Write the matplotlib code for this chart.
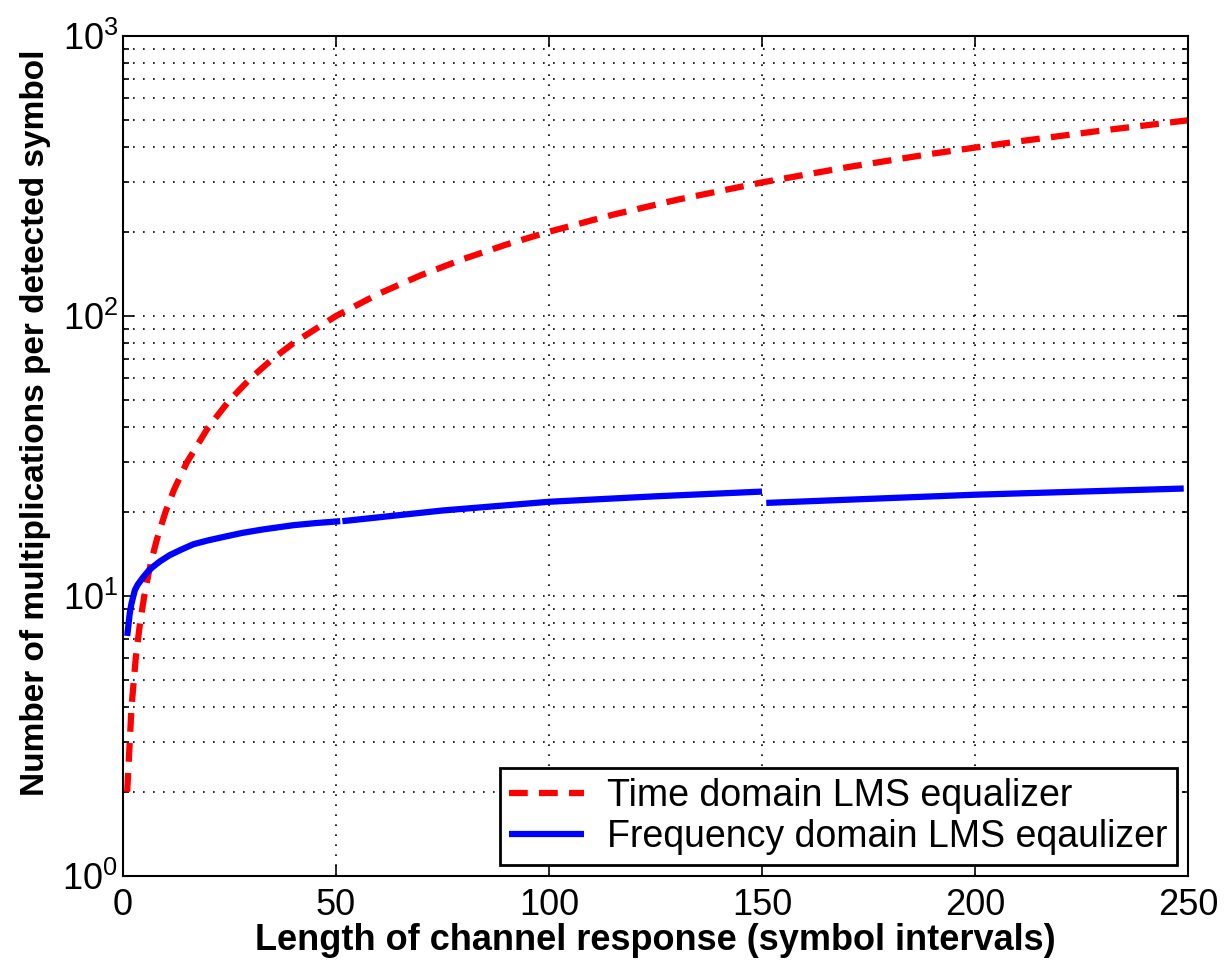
import numpy as np
import matplotlib
matplotlib.use('Agg')
import matplotlib.pyplot as plt
from matplotlib.ticker import LogLocator, FixedLocator, FixedFormatter, NullFormatter

plt.rcParams['font.family'] = ['Liberation Sans', 'DejaVu Sans']
plt.rcParams['mathtext.fontset'] = 'custom'
plt.rcParams['mathtext.rm'] = 'Liberation Sans'

# Time domain LMS equalizer
time_n = [1, 2, 3, 4, 5, 6, 7, 8, 10, 12, 15, 20, 25, 30, 35, 40, 50, 60, 70, 80,
          90, 100, 115, 130, 150, 170, 190, 210, 230, 250]
time_mult = [2, 4, 6, 8, 10, 12, 14, 16, 20, 24, 30, 40, 50, 60, 70, 80, 100, 120,
             140, 160, 180, 200, 230, 260, 300, 340, 380, 420, 460, 500]

# Frequency domain LMS equalizer, drawn as three separate pieces
freq_n1 = [1, 1.6, 2, 2.8, 3.5, 4.8, 6, 7, 8.7, 11, 13.5, 16.5, 20, 24, 28, 33, 40, 45, 51]
freq_mult1 = [7.2, 8.7, 9.4, 10.5, 11.0, 11.7, 12.3, 12.7, 13.3, 14.0, 14.6, 15.3,
              15.8, 16.3, 16.8, 17.3, 17.9, 18.2, 18.5]
freq_n2 = [51.5, 75, 100, 125, 150]
freq_mult2 = [18.5, 20.2, 21.7, 22.7, 23.6]
freq_n3 = [151, 200, 249]
freq_mult3 = [21.5, 23.0, 24.2]

y_ticks = [1, 10, 100, 1000]
y_tick_labels = [r'$\mathregular{10^{0}}$', r'$\mathregular{10^{1}}$',
                 r'$\mathregular{10^{2}}$', r'$\mathregular{10^{3}}$']
x_ticks = [0, 50, 100, 150, 200, 250]

fig = plt.figure(figsize=(12.26, 9.66), dpi=100)
ax = fig.add_axes([0.1003, 0.0932, 0.8687, 0.8695])

ax.plot(time_n, time_mult, color='red', lw=4.5, linestyle=(0, (3.0, 1.8)),
        label='Time domain LMS equalizer')
ax.plot(freq_n1, freq_mult1, color='blue', lw=4.5, solid_capstyle='butt',
        label='Frequency domain LMS eqaulizer')
ax.plot(freq_n2, freq_mult2, color='blue', lw=4.5, solid_capstyle='butt')
ax.plot(freq_n3, freq_mult3, color='blue', lw=4.5, solid_capstyle='butt')

ax.set_yscale('log')
ax.set_xlim(0, 250)
ax.set_ylim(1, 1000)
ax.xaxis.set_major_locator(FixedLocator(x_ticks))
ax.yaxis.set_major_locator(FixedLocator(y_ticks))
ax.yaxis.set_major_formatter(FixedFormatter(y_tick_labels))
ax.yaxis.set_minor_locator(LogLocator(base=10, subs=np.arange(2, 10)))
ax.yaxis.set_minor_formatter(NullFormatter())

ax.grid(True, which='major', axis='both', color='black', linestyle=(0, (1, 5)), lw=1.2)
ax.grid(True, which='minor', axis='y', color='black', linestyle=(0, (1, 5)), lw=1.2)

ax.tick_params(which='both', direction='in', top=True, right=True, labelsize=26)
ax.tick_params(which='major', length=8, width=1.2)
ax.tick_params(which='minor', length=4, width=1.2)
ax.tick_params(axis='x', pad=9)
for s in ax.spines.values():
    s.set_linewidth(1.5)

ax.set_xlabel('Length of channel response (symbol intervals)', fontsize=26,
              fontweight='bold', labelpad=0)
ax.set_ylabel('Number of multiplications per detected symbol', fontsize=24,
              fontweight='bold')
ax.yaxis.set_label_coords(-0.068, 0.54)

leg = ax.legend(loc='lower right', fontsize=27, fancybox=False, framealpha=1,
                edgecolor='black', handlelength=2.0, handletextpad=0.6,
                borderpad=0.25, labelspacing=0.15, borderaxespad=0.3)
leg.get_frame().set_linewidth(2)

fig.savefig('out.png', dpi=100)
